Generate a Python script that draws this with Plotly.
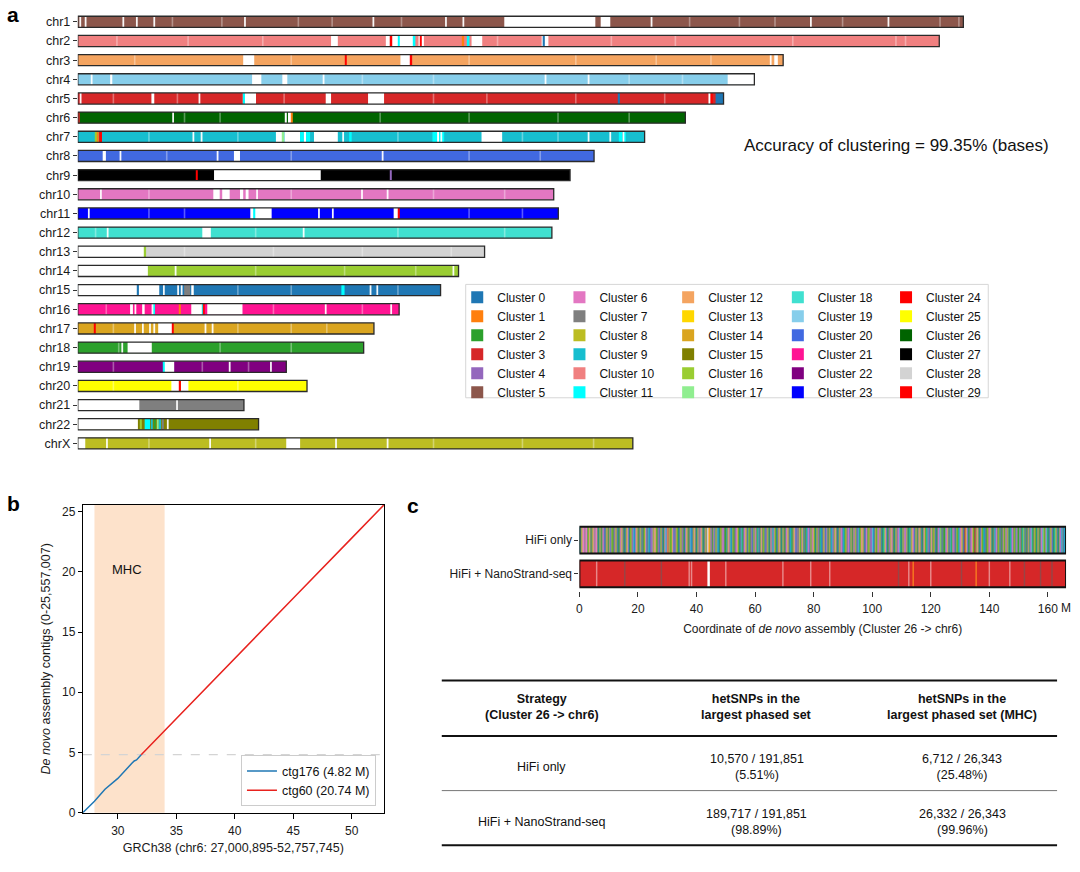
import plotly.graph_objects as go

W, H = 1080, 872
FONT = "Arial, 'Liberation Sans', sans-serif"

# ---------------- panel a data ----------------
chrom_names = ["chr1", "chr2", "chr3", "chr4", "chr5", "chr6", "chr7", "chr8", "chr9", "chr10",
               "chr11", "chr12", "chr13", "chr14", "chr15", "chr16", "chr17", "chr18", "chr19",
               "chr20", "chr21", "chr22", "chrX"]
chrom_lengths = [248.96, 242.19, 198.30, 190.21, 181.54, 170.81, 159.35, 145.14, 138.39, 133.80,
                 135.09, 133.28, 114.36, 107.04, 101.99, 90.34, 83.26, 80.37, 58.62, 64.44,
                 46.71, 50.82, 156.04]
chrom_cluster = [5, 10, 12, 19, 3, 26, 9, 20, 27, 6, 23, 18, 28, 16, 0, 21, 14, 2, 22, 25, 7, 15, 8]

cluster_names = ["Cluster %d" % i for i in range(30)]
cluster_colors = ["#1f77b4", "#ff7f0e", "#2ca02c", "#d62728", "#9467bd", "#8c564b", "#e377c2",
                  "#7f7f7f", "#bcbd22", "#17becf", "#f08080", "#00ffff", "#f4a460", "#ffd700",
                  "#daa520", "#808000", "#9acd32", "#90ee90", "#40e0d0", "#87ceeb", "#4169e1",
                  "#ff1493", "#800080", "#0000ff", "#ff0000", "#ffff00", "#006400", "#000000",
                  "#d3d3d3", "#ff0000"]

# unassigned (white) stretches: (chrom, start M, end M)
gap_marks = [
    ("chr1", 119.9, 145.5), ("chr1", 147.0, 149.7),
    ("chr2", 71.2, 73.1), ("chr2", 86.6, 94.8), ("chr2", 95.8, 97.3), ("chr2", 110.7, 113.7),
    ("chr2", 130.4, 132.3),
    ("chr3", 46.5, 49.6), ("chr3", 90.7, 93.7), ("chr3", 195.8, 196.8),
    ("chr4", 9.1, 9.7), ("chr4", 49.0, 51.6), ("chr4", 57.5, 58.9), ("chr4", 182.7, 190.21),
    ("chr5", 20.7, 21.5), ("chr5", 46.4, 50.1), ("chr5", 69.7, 71.2), ("chr5", 81.6, 86.1),
    ("chr5", 177.3, 177.9),
    ("chr6", 58.2, 58.7), ("chr6", 59.1, 60.0),
    ("chr7", 55.7, 57.5), ("chr7", 58.1, 62.5), ("chr7", 63.5, 64.2), ("chr7", 66.4, 73.1),
    ("chr7", 101.0, 101.6), ("chr7", 113.5, 119.3),
    ("chr8", 7.0, 7.9), ("chr8", 43.9, 45.6),
    ("chr9", 38.3, 68.3),
    ("chr10", 38.1, 39.9), ("chr10", 40.6, 42.7), ("chr10", 45.6, 46.5), ("chr10", 47.2, 48.0),
    ("chr11", 48.5, 54.5), ("chr11", 88.8, 90.0),
    ("chr12", 35.0, 37.4),
    ("chr13", 0.0, 18.8),
    ("chr14", 0.0, 19.7),
    ("chr15", 0.0, 16.7), ("chr15", 17.1, 22.9), ("chr15", 31.9, 32.6),
    ("chr16", 14.7, 15.5), ("chr16", 18.1, 18.8), ("chr16", 31.9, 35.0), ("chr16", 36.4, 46.3),
    ("chr17", 22.6, 26.5),
    ("chr18", 14.0, 20.8),
    ("chr19", 24.2, 27.1),
    ("chr20", 26.3, 28.5), ("chr20", 29.0, 31.1),
    ("chr21", 0.0, 17.3),
    ("chr22", 0.0, 16.9),
    ("chrX", 0.0, 2.1), ("chrX", 58.6, 62.5),
]

# stretches assigned to another cluster: (chrom, start M, end M, cluster)
color_marks = [
    ("chr2", 87.7, 88.4, 24), ("chr2", 90.0, 90.5, 11), ("chr2", 94.4, 94.9, 11),
    ("chr2", 96.2, 96.6, 24), ("chr2", 108.2, 108.6, 1), ("chr2", 109.6, 110.1, 11),
    ("chr2", 130.7, 131.3, 0),
    ("chr3", 75.2, 75.6, 24), ("chr3", 93.6, 94.0, 24),
    ("chr5", 46.4, 47.0, 11), ("chr5", 152.0, 152.4, 0), ("chr5", 177.9, 178.5, 24),
    ("chr5", 179.3, 181.54, 0),
    ("chr6", 0.0, 0.4, 3), ("chr6", 60.0, 60.3, 1),
    ("chr7", 5.0, 5.4, 16), ("chr7", 5.4, 5.9, 1), ("chr7", 6.0, 6.8, 24),
    ("chr7", 57.5, 58.0, 17), ("chr7", 62.5, 63.5, 11), ("chr7", 64.2, 65.3, 11),
    ("chr7", 76.3, 77.0, 11), ("chr7", 99.7, 101.0, 11), ("chr7", 101.6, 103.0, 11),
    ("chr7", 152.1, 153.0, 11), ("chr7", 153.5, 154.0, 11),
    ("chr9", 33.2, 33.6, 24), ("chr9", 87.8, 88.2, 4),
    ("chr11", 49.3, 49.9, 11), ("chr11", 90.0, 90.5, 24),
    ("chr13", 18.8, 19.2, 16),
    ("chr15", 16.7, 17.1, 0), ("chr15", 29.9, 31.6, 7), ("chr15", 74.1, 75.0, 11),
    ("chr16", 21.3, 21.7, 11), ("chr16", 28.5, 28.9, 1), ("chr16", 35.0, 35.3, 11),
    ("chr16", 35.3, 35.6, 24),
    ("chr17", 4.5, 5.0, 24), ("chr17", 26.5, 26.9, 24),
    ("chr19", 24.0, 24.4, 11),
    ("chr20", 28.5, 29.0, 24),
    ("chr22", 17.5, 18.0, 16), ("chr22", 18.8, 20.3, 11), ("chr22", 20.6, 21.0, 9),
    ("chr22", 21.5, 21.9, 2), ("chr22", 22.4, 22.7, 17), ("chr22", 23.0, 23.4, 9),
    ("chr22", 23.8, 24.1, 7),
]

# thin unassigned lines: (chrom, position M)
line_marks = [
    ("chr1", 0.7), ("chr1", 2.2), ("chr1", 12.8), ("chr1", 16.6), ("chr1", 21.5), ("chr1", 47.0),
    ("chr1", 83.1), ("chr1", 103.5), ("chr1", 108.4), ("chr1", 161.3), ("chr1", 206.1),
    ("chr1", 227.9),
    ("chr3", 194.8),
    ("chr4", 3.9), ("chr4", 69.1), ("chr4", 131.5), ("chr4", 143.6),
    ("chr5", 0.8), ("chr5", 34.2),
    ("chr6", 26.8),
    ("chr7", 32.5), ("chr7", 34.8), ("chr7", 74.6), ("chr7", 102.2), ("chr7", 143.6),
    ("chr7", 149.7), ("chr7", 153.4),
    ("chr8", 12.0), ("chr8", 39.3), ("chr8", 85.7),
    ("chr10", 6.5), ("chr10", 50.4), ("chr10", 79.9), ("chr10", 87.1),
    ("chr11", 3.1), ("chr11", 67.8), ("chr11", 71.7),
    ("chr12", 8.4), ("chr12", 63.5),
    ("chr14", 27.5), ("chr14", 105.6),
    ("chr15", 24.2), ("chr15", 28.2), ("chr15", 29.2), ("chr15", 82.3), ("chr15", 84.2),
    ("chr16", 16.2), ("chr16", 21.0), ("chr16", 69.7), ("chr16", 88.1),
    ("chr17", 16.1), ("chr17", 18.3), ("chr17", 20.3), ("chr17", 21.5), ("chr17", 35.9),
    ("chr17", 37.9),
    ("chr18", 12.5),
    ("chr19", 42.7), ("chr19", 54.3),
    ("chr21", 27.9),
    ("chr22", 25.3),
    ("chrX", 8.2), ("chrX", 37.2), ("chrX", 72.6), ("chrX", 87.1),
]

# faint lines (small unassigned pieces): (chrom, position M)
faint_marks = [
    ("chr1", 26.6), ("chr1", 40.5), ("chr1", 62.0), ("chr1", 71.5), ("chr1", 91.0), ("chr1", 172.0),
    ("chr1", 186.0), ("chr1", 196.0), ("chr1", 215.0), ("chr1", 242.4), ("chr1", 247.7),
    ("chr2", 11.0), ("chr2", 31.0), ("chr2", 52.0), ("chr2", 118.0), ("chr2", 150.0),
    ("chr2", 168.0), ("chr2", 201.0), ("chr2", 230.0), ("chr2", 232.7),
    ("chr3", 16.0), ("chr3", 60.0), ("chr3", 110.0), ("chr3", 140.0), ("chr3", 162.6),
    ("chr3", 178.0),
    ("chr4", 80.0), ("chr4", 100.0), ("chr4", 155.0), ("chr4", 170.0),
    ("chr5", 10.0), ("chr5", 28.0), ("chr5", 58.0), ("chr5", 100.0), ("chr5", 115.0),
    ("chr5", 140.0), ("chr5", 165.0),
    ("chr6", 30.0), ("chr6", 40.0), ("chr6", 85.0), ("chr6", 110.0), ("chr6", 135.0),
    ("chr6", 155.0),
    ("chr7", 20.0), ("chr7", 45.0), ("chr7", 90.0), ("chr7", 125.0), ("chr7", 135.0),
    ("chr8", 25.0), ("chr8", 60.0), ("chr8", 110.0), ("chr8", 130.0),
    ("chr10", 20.0), ("chr10", 60.0), ("chr10", 100.0), ("chr10", 120.0),
    ("chr11", 20.0), ("chr11", 30.0), ("chr11", 110.0), ("chr11", 125.0),
    ("chr12", 5.0), ("chr12", 50.0), ("chr12", 90.0), ("chr12", 120.0),
    ("chr13", 30.0), ("chr13", 55.0), ("chr13", 80.0), ("chr13", 105.0),
    ("chr14", 50.0), ("chr14", 75.0), ("chr14", 95.0),
    ("chr15", 45.0), ("chr15", 60.0), ("chr15", 90.0),
    ("chr16", 8.0), ("chr16", 55.0), ("chr16", 80.0),
    ("chr17", 10.0), ("chr17", 45.0), ("chr17", 60.0), ("chr17", 70.0),
    ("chr18", 11.5), ("chr18", 40.0), ("chr18", 60.0),
    ("chr19", 10.0), ("chr19", 35.0), ("chr19", 48.0),
    ("chr20", 10.0), ("chr20", 45.0),
    ("chrX", 20.0), ("chrX", 50.0), ("chrX", 100.0), ("chrX", 125.0), ("chrX", 145.0),
]

accuracy_text = "Accuracy of clustering = 99.35% (bases)"

# ---------------- panel b data ----------------
ctg176_x = [27.00, 28.00, 28.90, 29.10, 30.00, 31.20, 31.40, 31.60, 32.00]
ctg176_y = [0.00, 0.95, 1.95, 2.10, 2.85, 4.10, 4.30, 4.38, 4.82]
ctg60_x = [32.00, 35.00, 40.00, 45.00, 50.00, 52.76]
ctg60_y = [4.82, 7.80, 12.80, 17.80, 22.80, 25.56]
ctg176_name = "ctg176 (4.82 M)"
ctg60_name = "ctg60 (20.74 M)"
ctg176_length = 4.82
mhc_start, mhc_end = 28.0, 34.0
b_xrange = [27.000895, 52.757745]
b_yrange = [0, 25.557007]
b_xticks = [30, 35, 40, 45, 50]
b_yticks = [0, 5, 10, 15, 20, 25]

# ---------------- panel c data ----------------
asm_length = 166.2
c_xticks = [0, 20, 40, 60, 80, 100, 120, 140, 160]
strategies = ["HiFi only", "HiFi + NanoStrand-seq"]
# phased-block colour sequence along the HiFi-only assembly (tab10 index, w = unphased)
hifi_blocks = ("9786676628" "6278676620" "8726407872" "6082748702" "7684207860"
               "2874906872" "4807286079" "0478682740" "8702694178" "2860478207"
               "8742068724" "9078620847" "6802487w18" "4726087902" "8764208679"
               "0827468207" "9246870827" "4087629708" "6280478026" "7948207862"
               "0872468709" "2786047826" "8072946087" "6820874290" "7840627809"
               "4786207846" "0928746087" "2678049286" "8704628749" "0782648702"
               "9860274867" "2087469208" "7648029786" "4087268702" "6829740862"
               "8702469807" "2468079264" "7082946870" "3860274682" "3786204829"
               "0728468027" "9462807248" "2678029462" "8062472980" "7248069278"
               "2087246982" "6920784029" "8702649709")
tab10 = ["#1f77b4", "#ff7f0e", "#2ca02c", "#d62728", "#9467bd", "#8c564b", "#e377c2",
         "#7f7f7f", "#bcbd22", "#17becf"]
nano_main = "#d62728"
# interruptions along the HiFi + NanoStrand-seq block: (position M, kind)
nano_marks = [(5.9, "f"), (15.5, "g"), (28.0, "g"), (37.5, "f"), (38.3, "f"), (44.3, "w"),
              (50.0, "f"), (69.5, "f"), (79.0, "f"), (85.5, "f"), (109.0, "g"), (112.5, "f"),
              (114.0, "o"), (120.0, "f"), (130.5, "g"), (135.5, "o"), (140.0, "f"),
              (147.0, "f"), (152.0, "g"), (157.5, "g"), (161.4, "g")]
nano_kind_color = {"w": "white", "f": "rgba(255,255,255,0.45)", "g": "rgba(110,90,90,0.6)",
                   "o": "rgba(255,140,30,0.8)"}

table_header = ["Strategy<br>(Cluster 26 -> chr6)", "hetSNPs in the<br>largest phased set",
                "hetSNPs in the<br>largest phased set (MHC)"]
phased_all = ["10,570 / 191,851<br>(5.51%)", "189,717 / 191,851<br>(98.89%)"]
phased_mhc = ["6,712 / 26,343<br>(25.48%)", "26,332 / 26,343<br>(99.96%)"]


def px(p):
    return p / W


def py(p):
    return 1 - p / H


fig = go.Figure()


def hbar(y, base, length, color, width, xa, ya, line=None, opacity=None):
    fig.add_trace(go.Bar(
        y=y, x=length, base=base, orientation="h", width=width,
        marker=dict(color=color, line=line or dict(width=0)),
        opacity=opacity, xaxis=xa, yaxis=ya, showlegend=False, hoverinfo="skip"))


# ---- panel a ----
BW = 0.58
hbar(chrom_names, [0] * len(chrom_names), chrom_lengths,
     [cluster_colors[c] for c in chrom_cluster], BW, "x", "y")
hbar([g[0] for g in gap_marks], [g[1] for g in gap_marks], [g[2] - g[1] for g in gap_marks],
     "white", BW, "x", "y")
hbar([m[0] for m in color_marks], [m[1] for m in color_marks],
     [m[2] - m[1] for m in color_marks], [cluster_colors[m[3]] for m in color_marks], BW, "x", "y")
hbar([m[0] for m in faint_marks], [m[1] - 0.22 for m in faint_marks], [0.45] * len(faint_marks),
     "rgba(255,255,255,0.35)", BW, "x", "y")
hbar([m[0] for m in line_marks], [m[1] - 0.25 for m in line_marks], [0.5] * len(line_marks),
     "rgba(255,255,255,0.95)", BW, "x", "y")
hbar(chrom_names, [0] * len(chrom_names), chrom_lengths, "rgba(0,0,0,0)", BW, "x", "y",
     line=dict(color="#2a2a2a", width=1.3))

for k in range(30):
    col = k // 6
    fig.add_trace(go.Bar(
        x=[None], y=[None], orientation="h", name=cluster_names[k],
        marker=dict(color=cluster_colors[k], line=dict(width=0)),
        legend="legend" if col == 0 else "legend%d" % (col + 1),
        xaxis="x", yaxis="y", hoverinfo="skip"))

# ---- panel b ----
fig.add_trace(go.Scatter(x=ctg176_x, y=ctg176_y, mode="lines", name=ctg176_name,
                         line=dict(color="#1f77b4", width=1.5), xaxis="x2", yaxis="y2",
                         legend="legend6", hoverinfo="skip"))
fig.add_trace(go.Scatter(x=ctg60_x, y=ctg60_y, mode="lines", name=ctg60_name,
                         line=dict(color="#e8221e", width=1.5), xaxis="x2", yaxis="y2",
                         legend="legend6", hoverinfo="skip"))

# ---- panel c ----
CW = 0.79
nb = len(hifi_blocks)
bw = asm_length / nb
hb_base = [i * bw for i in range(nb)]
hb_col = ["white" if ch == "w" else tab10[int(ch)] for ch in hifi_blocks]
hbar([strategies[0]] * nb, hb_base, [bw + 0.1] * nb, hb_col, CW, "x3", "y3", opacity=0.95)
hbar([strategies[1]], [0], [asm_length], nano_main, CW, "x3", "y3")
hbar([strategies[1]] * len(nano_marks), [m[0] - 0.25 for m in nano_marks],
     [0.5] * len(nano_marks), [nano_kind_color[m[1]] for m in nano_marks], CW, "x3", "y3")
hbar(strategies, [0, 0], [asm_length, asm_length], "rgba(0,0,0,0)", CW, "x3", "y3",
     line=dict(color="#111111", width=2))

tickfont = dict(family=FONT, size=12, color="#1a1a1a")

shapes = [
    dict(type="rect", xref="x2", yref="y2 domain", x0=mhc_start, x1=mhc_end, y0=0, y1=1,
         fillcolor="#fde2cb", line=dict(width=0), layer="below"),
    dict(type="line", xref="x2 domain", yref="y2", x0=0, x1=1, y0=ctg176_length,
         y1=ctg176_length, line=dict(color="#d4d4d4", width=1.3, dash="dash"), layer="below"),
    dict(type="rect", xref="paper", yref="paper", x0=px(464), x1=px(988), y0=py(401),
         y1=py(286.7), line=dict(color="#d6d6d6", width=1)),
    dict(type="line", xref="paper", yref="paper", x0=px(440), x1=px(1057), y0=py(686), y1=py(686),
         line=dict(color="#111", width=2)),
    dict(type="line", xref="paper", yref="paper", x0=px(440), x1=px(1057), y0=py(742), y1=py(742),
         line=dict(color="#111", width=2)),
    dict(type="line", xref="paper", yref="paper", x0=px(440), x1=px(1057), y0=py(797), y1=py(797),
         line=dict(color="#777", width=1)),
    dict(type="line", xref="paper", yref="paper", x0=px(440), x1=px(1057), y0=py(852), y1=py(852),
         line=dict(color="#111", width=2)),
]

ann = []
for lab, x0, y0 in [("a", 2, 15), ("b", 2, 508), ("c", 403, 510)]:
    ann.append(dict(text="<b>%s</b>" % lab, x=px(x0), y=py(y0), xref="paper", yref="paper",
                    xanchor="left", yanchor="middle", showarrow=False,
                    font=dict(family=FONT, size=21, color="black")))
ann.append(dict(text=accuracy_text, x=px(896), y=py(147), xref="paper", yref="paper",
                xanchor="center", yanchor="middle", showarrow=False,
                font=dict(family=FONT, size=17, color="#111")))
ann.append(dict(text="MHC", x=30.8, y=20.2, xref="x2", yref="y2", showarrow=False,
                xanchor="center", yanchor="middle",
                font=dict(family=FONT, size=13, color="#111")))
ann.append(dict(text="M", x=asm_length, y=py(612.5), xref="x3", yref="paper", showarrow=False,
                xanchor="center", yanchor="middle",
                font=dict(family=FONT, size=12, color="#1a1a1a")))

col_x = [540, 756, 962]
tfont = dict(family=FONT, size=12.5, color="#111")
for j, txt in enumerate(table_header):
    ann.append(dict(text="<b>%s</b>" % txt.replace("<br>", "</b><br><b>"), x=px(col_x[j]),
                    y=py(713), xref="paper", yref="paper", showarrow=False, font=tfont,
                    xanchor="center", yanchor="middle"))
for i, rowy in enumerate([773, 828.5]):
    for j, txt in enumerate([strategies[i], phased_all[i], phased_mhc[i]]):
        ann.append(dict(text=txt, x=px(col_x[j]), y=py(rowy), xref="paper", yref="paper",
                        showarrow=False, font=tfont, xanchor="center", yanchor="middle"))

legend_common = dict(bgcolor="rgba(0,0,0,0)", borderwidth=0, font=dict(family=FONT, size=12,
                     color="#111"), tracegroupgap=0, orientation="v", xanchor="left",
                     yanchor="top", itemclick=False, itemdoubleclick=False)
swatch_centres = [476.5, 579, 688, 798, 906.5]
legends = {}
for c, sc in enumerate(swatch_centres):
    key = "legend" if c == 0 else "legend%d" % (c + 1)
    legends[key] = dict(legend_common, x=px(sc - 21), y=py(285))

legends["legend6"] = dict(bgcolor="white", bordercolor="#cccccc", borderwidth=1,
                          font=dict(family=FONT, size=12.5, color="#111"), x=px(374), y=py(813),
                          xanchor="right", yanchor="bottom", itemclick=False,
                          itemdoubleclick=False, tracegroupgap=0)

fig.update_layout(
    width=W, height=H, margin=dict(l=0, r=0, t=0, b=0),
    paper_bgcolor="white", plot_bgcolor="white", barmode="overlay",
    font=dict(family=FONT, size=12, color="#1a1a1a"),
    xaxis=dict(domain=[px(75), px(1075)], range=[0, 280.35], visible=False, anchor="y",
               fixedrange=True),
    yaxis=dict(domain=[py(456.66), py(12.34)], type="category", categoryorder="array",
               categoryarray=chrom_names, range=[22.5, -0.5], ticks="outside", ticklen=4,
               tickcolor="#333", showline=False, showgrid=False, zeroline=False,
               tickfont=dict(family=FONT, size=12.5, color="#1a1a1a"), anchor="x",
               fixedrange=True),
    xaxis2=dict(domain=[px(80), px(382)], range=b_xrange, tickvals=b_xticks, ticks="outside",
                ticklen=5, tickcolor="black", showline=True, mirror=True, linecolor="black",
                linewidth=1, showgrid=False, zeroline=False, anchor="y2", tickfont=tickfont,
                ticklabelstandoff=2,
                title=dict(text="GRCh38 (chr6: 27,000,895-52,757,745)", standoff=6,
                           font=dict(family=FONT, size=12.5, color="#1a1a1a"))),
    yaxis2=dict(domain=[py(819.3), py(509)], range=b_yrange, tickvals=b_yticks, ticks="outside",
                ticklen=4, tickcolor="black", showline=True, mirror=True, linecolor="black",
                linewidth=1, showgrid=False, zeroline=False, anchor="x2", tickfont=tickfont,
                title=dict(text="<i>De novo</i> assembly contigs (0-25,557,007)", standoff=8,
                           font=dict(family=FONT, size=12.5, color="#1a1a1a"))),
    xaxis3=dict(domain=[px(578), px(1066)], range=[0, asm_length], tickvals=c_xticks,
                ticks="outside", ticklen=5, tickcolor="#333", showline=False, showgrid=False,
                zeroline=False, anchor="y3", tickfont=tickfont, ticklabelstandoff=2,
                title=dict(text="Coordinate of <i>de novo</i> assembly (Cluster 26 -> chr6)",
                           standoff=9, font=dict(family=FONT, size=12, color="#1a1a1a"))),
    yaxis3=dict(domain=[py(595.5), py(527.5)], type="category", categoryorder="array",
                categoryarray=[strategies[1], strategies[0]], range=[-0.5, 1.5],
                ticks="outside", ticklen=4, tickcolor="#333", showline=False, showgrid=False,
                zeroline=False, anchor="x3", tickfont=tickfont),
    shapes=shapes, annotations=ann, **legends,
)

fig.write_html("out.html", config={"displayModeBar": False},
               post_script="document.body.style.margin='0';document.body.style.overflow='hidden';")
